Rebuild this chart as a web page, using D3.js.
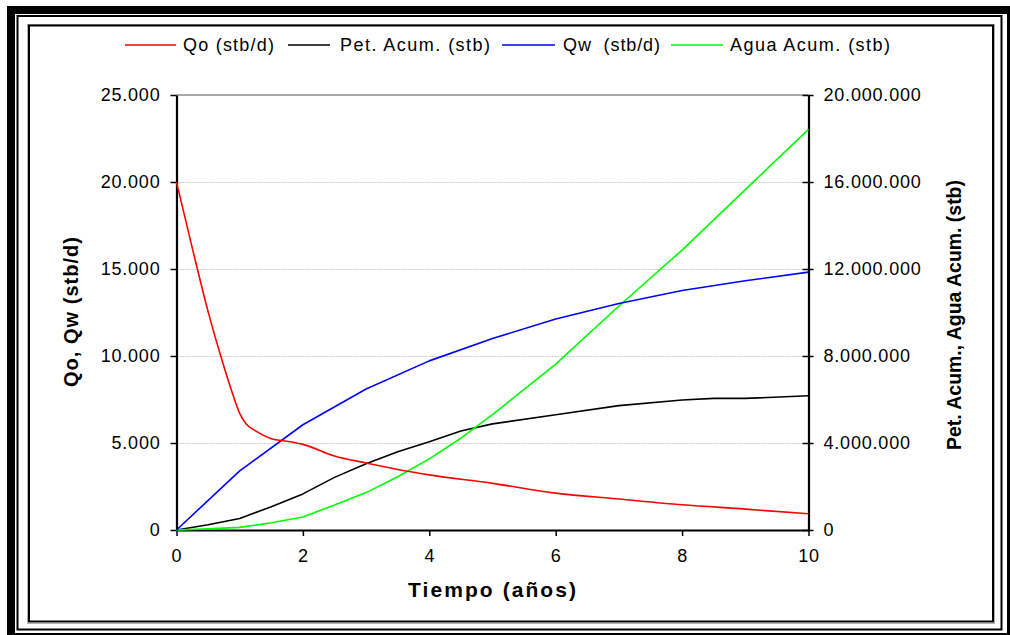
<!DOCTYPE html>
<html><head><meta charset="utf-8">
<script src="https://cdn.jsdelivr.net/npm/d3@7"></script>
<style>
body{margin:0;background:#fff}
svg{display:block}
text{font-family:"Liberation Sans",Arial,Helvetica,sans-serif}
</style>
</head><body>
<svg id="chart" width="1010" height="635"></svg>
<script>
// ---- data (years) ----
const qoYears = [0,0.25,0.5,0.75,0.9,1,1.1,1.25,1.5,1.75,2,2.5,3,3.5,4,5,6,7,8,9,10];
const qoValues = [20000,16200,12550,9400,7700,6700,6100,5700,5250,5100,4920,4250,3850,3480,3170,2680,2120,1780,1450,1200,930];

const qwYears = [0,1,2,3,4,5,6,7,8,9,10];
const qwValues = [0,3400,6050,8100,9720,11000,12130,13020,13760,14320,14820];

const npYears = [0,0.5,1,1.5,2,2.5,3,3.5,4,4.5,5,6,7,8,8.5,9,10];
const npValues = [0,240000,530000,1070000,1660000,2420000,3050000,3600000,4060000,4550000,4880000,5300000,5720000,5980000,6050000,6050000,6170000];

const wpYears = [0,0.5,1,1.5,2,2.5,3,3.5,4,4.5,5,6,7,8,9,10];
const wpValues = [0,50000,120000,330000,600000,1150000,1720000,2450000,3270000,4220000,5300000,7630000,10300000,12870000,15650000,18420000];

const xTicks = [0,2,4,6,8,10];
const leftTicks = [0,5000,10000,15000,20000,25000];
const rightTicks = [0,4000000,8000000,12000000,16000000,20000000];

const seriesNames = ["Qo (stb/d)","Pet. Acum. (stb)","Qw  (stb/d)","Agua Acum. (stb)"];
const seriesColors = ["#ff0000","#000000","#0000ff","#00ff00"];

const xTitle = "Tiempo (años)";
const yLeftTitle = "Qo, Qw (stb/d)";
const yRightTitle = "Pet. Acum., Agua Acum. (stb)";

// ---- setup ----
const svg = d3.select("#chart");
const loc = d3.formatLocale({decimal:",", thousands:".", grouping:[3], currency:["",""]});
const fmt = loc.format(",d");

// frame
svg.append("rect").attr("x",11).attr("y",10).attr("width",1000).attr("height",627)
  .attr("fill","none").attr("stroke","#000").attr("stroke-width",8);
svg.append("rect").attr("x",17.5).attr("y",16).attr("width",984).attr("height",613.5)
  .attr("fill","none").attr("stroke","#000").attr("stroke-width",2);
svg.append("rect").attr("x",27.5).attr("y",24.5).attr("width",967).attr("height",599)
  .attr("fill","none").attr("stroke","#b0b0b0").attr("stroke-width",1);
svg.append("rect").attr("x",29).attr("y",25.5).attr("width",964).attr("height",596)
  .attr("fill","#fff").attr("stroke","#000").attr("stroke-width",2);

const x = d3.scaleLinear().domain([0,10]).range([176.5,808.5]);
const yL = d3.scaleLinear().domain([0,25000]).range([530,95]);
const yR = d3.scaleLinear().domain([0,20000000]).range([530,95]);

// gridlines
svg.append("g").selectAll("line").data(leftTicks.filter(d=>d>0 && d<25000)).join("line")
  .attr("x1",x(0)).attr("x2",x(10)).attr("y1",d=>Math.round(yL(d))+0.5).attr("y2",d=>Math.round(yL(d))+0.5)
  .attr("stroke","#cccccc").attr("stroke-width",1.2).attr("stroke-dasharray","2,1");
svg.append("line").attr("x1",x(0)).attr("x2",x(10)).attr("y1",yL(25000)).attr("y2",yL(25000))
  .attr("stroke","#8a8a8a").attr("stroke-width",1.5);

const tickFont = "18px";
const tickSpacing = "0.8px";

const gL = svg.append("g").attr("transform",`translate(${x(0)},0)`)
  .call(d3.axisLeft(yL).tickValues(leftTicks).tickFormat(fmt).tickSize(6).tickSizeOuter(0).tickPadding(10));
const gR = svg.append("g").attr("transform",`translate(${x(10)},0)`)
  .call(d3.axisRight(yR).tickValues(rightTicks).tickFormat(fmt).tickSize(5).tickSizeOuter(0).tickPadding(10));
gR.selectAll(".tick").append("line").attr("x2",-6).attr("stroke","#000");
const gB = svg.append("g").attr("transform",`translate(0,${yL(0)})`)
  .call(d3.axisBottom(x).tickValues(xTicks).tickFormat(d3.format("d")).tickSize(6).tickSizeOuter(0).tickPadding(13));

[gL,gR,gB].forEach(g=>{
  g.attr("font-family",null).attr("font-size",null);
  g.select(".domain").attr("stroke","#000").attr("stroke-width",2.2);
  g.selectAll(".tick line").attr("stroke","#000").attr("stroke-width",1.5);
  g.selectAll(".tick text").attr("fill","#000").style("font-size",tickFont)
    .style("letter-spacing",tickSpacing);
});

// lines
const lineL = d3.line().x(d=>x(d[0])).y(d=>yL(d[1]));
const lineR = d3.line().x(d=>x(d[0])).y(d=>yR(d[1]));
const lineSmooth = d3.line().x(d=>x(d[0])).y(d=>yL(d[1])).curve(d3.curveMonotoneX);
const plot = svg.append("g").attr("fill","none").attr("stroke-width",1.6).attr("stroke-linejoin","round");
plot.append("path").datum(d3.zip(npYears,npValues)).attr("d",lineR).attr("stroke",seriesColors[1]);
plot.append("path").datum(d3.zip(wpYears,wpValues)).attr("d",lineR).attr("stroke",seriesColors[3]);
plot.append("path").datum(d3.zip(qwYears,qwValues)).attr("d",lineL).attr("stroke",seriesColors[2]);
plot.append("path").datum(d3.zip(qoYears,qoValues)).attr("d",lineSmooth).attr("stroke",seriesColors[0]);

// legend
const legendPos = [[125,176,183,91],[288,330,340,150],[502,555,563,97],[671,723,730,160]];
const leg = svg.append("g");
seriesNames.forEach((n,i)=>{
  const p = legendPos[i];
  leg.append("line").attr("x1",p[0]).attr("x2",p[1]).attr("y1",45).attr("y2",45)
    .attr("stroke",seriesColors[i]).attr("stroke-width",1.6);
  leg.append("text").attr("x",p[2]).attr("y",51).text(n)
    .style("font-size","18px").attr("textLength",p[3]).attr("lengthAdjust","spacing")
    .attr("xml:space","preserve").style("white-space","pre");
});

// titles
svg.append("text").attr("x",492).attr("y",597).attr("text-anchor","middle")
  .style("font-size","21px").style("font-weight","bold").attr("textLength",168).attr("lengthAdjust","spacing").text(xTitle);
svg.append("text").attr("transform","translate(78,312) rotate(-90)").attr("text-anchor","middle")
  .style("font-size","20px").style("font-weight","bold").attr("textLength",150).attr("lengthAdjust","spacing").text(yLeftTitle);
svg.append("text").attr("transform","translate(961,315) rotate(-90)").attr("text-anchor","middle")
  .style("font-size","19.5px").style("font-weight","bold").attr("textLength",270).attr("lengthAdjust","spacing").text(yRightTitle);
</script>
</body></html>
